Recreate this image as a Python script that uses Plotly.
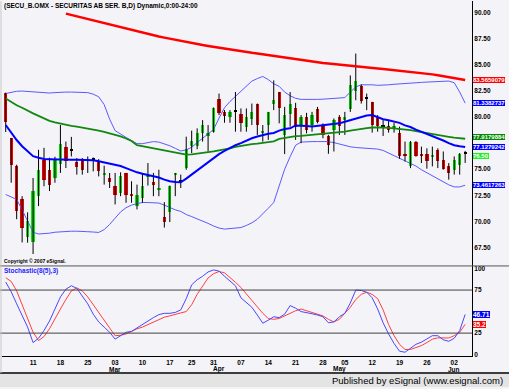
import plotly.graph_objects as go

# ---------------- data (trading-day index 0 = 2008-02-04) ----------------
opens = [82.3, 78.0, 75.27, 72.16, 68.5, 67.97, 72.41, 75.9, 74.95, 74.16,
         75.52, 77.11, 76.76, 75.65, 75.97, 75.74, 75.9, 75.74, 74.48, 74.16,
         73.43, 72.73, 74.64, 72.64, 71.46, 72.25, 74.3, 73.74, 72.98, 70.44,
         70.88, 74.5, 73.78, 75.11, 77.24, 77.24, 78.51, 78.19, 78.6, 81.71,
         80.5, 80.03, 80.5, 80.26, 79.08, 79.78, 81.24, 78.51, 79.24, 81.3,
         82.41, 78.29, 80.29, 80.92, 79.24, 79.97, 79.24, 80.73, 79.14, 78.19,
         78.76, 79.97, 79.78, 80.73, 82.5, 82.95, 81.78, 81.46, 79.97, 79.14,
         79.14, 78.92, 78.45, 76.45, 75.27, 77.65, 76.45, 76.45, 76.22, 76.86,
         75.9, 75.27, 74.95, 75.36, 76.5]
highs = [82.35, 78.0, 75.43, 72.41, 70.86, 74.16, 76.86, 77.05, 76.1, 76.2,
         79.24, 77.65, 78.1, 76.07, 76.07, 76.22, 76.12, 75.97, 75.33, 74.64,
         74.64, 74.7, 74.64, 73.84, 73.52, 74.64, 75.59, 74.64, 74.95, 71.84,
         73.43, 74.64, 74.48, 78.12, 78.7, 78.92, 79.71, 79.24, 80.92, 82.26,
         80.67, 80.67, 82.41, 80.83, 80.83, 81.3, 81.3, 79.24, 80.5, 83.52,
         82.41, 80.98, 82.41, 81.37, 80.19, 80.41, 80.5, 80.98, 79.4, 78.29,
         79.87, 80.19, 80.5, 84.0, 86.1, 83.14, 82.26, 81.46, 80.19, 79.71,
         79.71, 79.46, 79.08, 77.65, 77.7, 77.7, 77.17, 77.0, 77.17, 77.0,
         76.7, 75.59, 76.22, 76.55, 76.75]
lows = [78.57, 73.7, 70.2, 67.97, 67.95, 66.86, 71.46, 73.36, 72.9, 73.7,
        74.64, 75.11, 76.23, 74.48, 74.48, 74.64, 74.79, 74.31, 73.52, 73.2,
        71.62, 72.41, 71.78, 71.78, 71.14, 71.78, 73.43, 72.41, 72.41, 69.4,
        69.93, 72.41, 73.2, 74.95, 76.54, 76.92, 77.65, 76.7, 78.51, 80.19,
        79.46, 79.46, 78.6, 78.6, 78.6, 79.24, 78.29, 77.65, 77.81, 80.67,
        79.4, 76.45, 79.08, 77.81, 77.5, 78.44, 78.6, 79.4, 77.97, 76.48,
        76.7, 78.29, 78.29, 80.5, 81.62, 81.3, 80.67, 78.51, 78.6, 78.19,
        78.51, 78.51, 76.0, 75.74, 75.1, 76.2, 75.59, 75.05, 75.27, 75.11,
        74.95, 74.0, 74.48, 74.48, 75.6]
closes = [79.55, 75.43, 70.98, 69.4, 70.0, 72.9, 74.95, 74.0, 73.52, 75.9,
          77.43, 75.74, 76.76, 75.17, 74.95, 75.97, 75.9, 74.79, 74.64, 73.74,
          72.48, 74.38, 72.57, 72.48, 72.48, 73.43, 74.45, 73.52, 73.2, 69.93,
          73.36, 74.6, 73.78, 76.92, 77.74, 78.44, 79.21, 78.51, 80.92, 80.35,
          80.1, 80.5, 80.5, 79.4, 79.97, 80.5, 79.24, 78.67, 80.45, 81.68,
          80.83, 80.19, 81.24, 79.08, 79.97, 78.76, 80.19, 79.55, 78.29, 77.33,
          79.71, 79.14, 79.97, 83.05, 83.46, 81.55, 81.78, 79.24, 79.14, 79.14,
          78.76, 79.14, 76.22, 76.22, 77.65, 76.22, 76.22, 75.74, 76.38, 75.74,
          75.05, 74.64, 75.9, 76.45, 76.5]

ma_fast = [79.24, 78.5, 77.8, 77.2, 76.75, 76.25, 76.1, 75.97, 75.95, 75.92,
           75.9, 75.9, 75.9, 75.9, 75.9, 75.9, 75.85, 75.76, 75.66, 75.55,
           75.45, 75.3, 75.1, 74.87, 74.7, 74.56, 74.45, 74.35, 74.2, 74.0,
           73.84, 73.76, 73.74, 74.1, 74.5, 74.9, 75.3, 75.7, 76.1, 76.45,
           76.75, 77.05, 77.3, 77.5, 77.75, 77.97, 78.14, 78.28, 78.4, 78.47,
           78.7, 78.85, 78.92, 79.2, 79.2, 79.15, 79.1, 79.15, 79.2, 79.25,
           79.3, 79.4, 79.55, 79.7, 79.85, 80.0, 80.15, 80.2, 80.0, 79.8,
           79.7, 79.6, 79.45, 79.2, 79.05, 78.8, 78.6, 78.4, 78.15, 77.95,
           77.75, 77.5, 77.3, 77.2, 77.13]
ma_mid = [81.78, 81.45, 81.14, 80.9, 80.6, 80.36, 80.12, 79.9, 79.64, 79.5,
          79.37, 79.25, 79.16, 79.08, 79.0, 78.9, 78.8, 78.7, 78.58, 78.45,
          78.32, 78.15, 77.95, 77.7, 77.3, 77.2, 77.1, 77.0, 76.93, 76.8,
          76.7, 76.6, 76.48, 76.4, 76.42, 76.48, 76.55, 76.6, 76.7, 76.8,
          76.88, 77.0, 77.15, 77.25, 77.33, 77.4, 77.45, 77.52, 77.6, 77.68,
          77.9, 78.0, 78.07, 78.17, 78.2, 78.25, 78.3, 78.32, 78.35, 78.38,
          78.45, 78.52, 78.6, 78.7, 78.8, 78.88, 78.95, 79.0, 79.02, 79.0,
          78.97, 78.92, 78.9, 78.85, 78.75, 78.65, 78.55, 78.45, 78.38, 78.3,
          78.2, 78.1, 78.02, 77.96, 77.92]
ma_slow = [None] * 11 + [
          89.93, 89.8, 89.67, 89.53, 89.4, 89.27, 89.13, 89.0, 88.87,
          88.72, 88.59, 88.45, 88.32, 88.2, 88.09, 87.97, 87.86, 87.74, 87.63,
          87.52, 87.42, 87.31, 87.21, 87.1, 87.0, 86.91, 86.83, 86.74, 86.66,
          86.57, 86.49, 86.4, 86.32, 86.25, 86.17, 86.1, 86.02, 85.94, 85.87,
          85.79, 85.71, 85.64, 85.56, 85.45, 85.38, 85.32, 85.26, 85.2, 85.14,
          85.08, 85.02, 84.97, 84.92, 84.86, 84.81, 84.76, 84.71, 84.66, 84.61,
          84.56, 84.51, 84.46, 84.41, 84.36, 84.3, 84.24, 84.17, 84.1, 84.02,
          83.93, 83.84, 83.75, 83.66, 83.57]
bb_upper = [82.26, 82.4, 82.48, 82.5, 82.45, 82.4, 82.35, 82.32, 82.31, 82.35,
            82.4, 82.4, 82.4, 82.4, 82.4, 82.35, 82.2, 81.95, 81.2, 79.8,
            78.7, 78.35, 78.05, 77.75, 77.45, 77.45, 77.55, 77.65, 77.6, 77.45,
            77.25, 77.0, 76.75, 76.85, 77.1, 77.55, 77.95, 78.35, 78.8, 79.9,
            80.9, 81.5, 82.0, 82.45, 83.0, 83.45, 83.7, 83.9, 83.6, 83.2,
            82.95, 82.4, 82.05, 81.8, 81.7, 81.68, 81.68, 81.7, 81.72, 81.76,
            81.8, 81.83, 81.87, 82.4, 82.9, 83.1, 83.12, 83.1, 83.05, 83.05,
            83.1, 83.15, 83.2, 83.25, 83.27, 83.3, 83.33, 83.36, 83.38, 83.42,
            83.45, 83.46, 83.3, 82.4, 81.34]
bb_lower = [72.57, 72.35, 72.1, 71.1, 70.1, 68.95, 68.78, 68.8, 68.86, 68.95,
            69.0, 69.05, 69.05, 69.05, 69.05, 69.0, 68.97, 68.93, 69.2, 69.7,
            70.3, 70.9, 71.3, 71.55, 71.7, 71.8, 71.8, 71.8, 71.75, 71.55,
            71.3, 71.1, 70.95, 70.65, 70.45, 70.25, 70.05, 69.8, 69.55, 69.35,
            69.25, 69.28, 69.35, 69.4, 69.6, 69.85, 70.2, 70.7, 71.25, 71.8,
            73.5, 75.0, 76.2, 77.3, 77.6, 77.65, 77.65, 77.65, 77.65, 77.65,
            77.55, 77.4, 77.27, 77.15, 77.08, 77.03, 77.0, 76.96, 76.93, 76.8,
            76.55, 76.3, 76.1, 75.85, 75.6, 75.3, 74.95, 74.65, 74.35, 74.05,
            73.75, 73.5, 73.3, 73.3, 73.46]
stoch_k = [84.3, 73, 59, 45, 32, 14, 19, 28, 39, 53,
           67, 76, 80, 77, 68, 59, 47, 38, 32, 26,
           18, 21.5, 26, 27, 31, 36, 39, 43, 46.5, 48,
           48, 49, 52, 65, 81, 87, 91, 96, 98.4, 97,
           91, 85, 80, 66, 60, 55, 46, 36.5, 40, 44,
           43, 47, 57, 54, 50, 49, 47.5, 46, 44, 37,
           38, 44, 48, 60, 75, 74.5, 72.5, 66, 53, 37,
           24, 13, 4, 2.8, 7, 12, 14.5, 18, 22, 22,
           17.3, 15.5, 19, 28, 46.71]
stoch_d = [89.3, 85, 74, 58, 42, 26, 16.4, 21, 30, 42,
           53, 64, 74, 77.5, 74, 67, 58, 48, 39, 30,
           22, 22.5, 24, 27, 30, 32, 35, 38, 41, 43.5,
           45, 47, 48.5, 50, 58, 70, 80, 89, 94, 96.5,
           95, 90, 84, 78, 70, 63, 55.5, 48, 42, 41,
           42, 45, 48, 51, 53, 51, 48.5, 47, 45, 41,
           38, 41, 48, 55, 64, 70, 72.5, 70, 65, 52,
           35, 22, 12, 6, 6, 8, 10.5, 14, 18, 19.5,
           19.5, 19.4, 22, 26, 35.2]

day_tick_idx = [5, 10, 15, 20, 25, 30, 34, 38, 43, 48, 53, 58, 62, 67, 72, 77, 82]
day_tick_text = ['11', '18', '25', '03', '10', '17', '25', '31', '07', '14', '21',
                 '28', '05', '12', '19', '26', '02']
month_idx = [20, 39, 61, 82]
month_text = ['Mar', 'Apr', 'May', 'Jun']

# 77.50 is hidden behind the value tags in the original
price_ticks = [67.5, 70.0, 72.5, 75.0, 80.0, 82.5, 85.0, 87.5, 90.0]
stoch_ticks = [0, 25, 75, 100]

# right-edge value tags: (text, value, colour)
price_tags = [('83.5659079', 83.5659079, '#FF0000'), ('81.3382737', 81.3382737, '#0000FF'),
              ('77.9179884', 77.9179884, '#008800'), ('77.1279242', 77.1279242, '#0000FF'),
              ('76.50', 76.50, '#22EE22'), ('73.4617263', 73.4617263, '#0000FF')]
stoch_tags = [('46.71', 46.71, '#0000FF'), ('35.2', 35.2, '#FF0000')]

# ---------------- figure ----------------
W, H = 509, 389
def px_y(p):
    return (H - p) / H
def px_x(p):
    return p / W

FONT = 'Liberation Sans, Arial, sans-serif'
BG = '#F4F3F7'
idx = list(range(len(opens)))

fig = go.Figure()

# Bollinger bands
fig.add_trace(go.Scatter(x=idx, y=bb_upper, mode='lines', line=dict(color='#5A5AFF', width=1),
                         xaxis='x', yaxis='y'))
fig.add_trace(go.Scatter(x=idx, y=bb_lower, mode='lines', line=dict(color='#5A5AFF', width=1),
                         xaxis='x', yaxis='y'))

# wicks
wx, wy = [], []
for i in idx:
    wx += [i, i, None]
    wy += [lows[i], highs[i], None]
fig.add_trace(go.Scatter(x=wx, y=wy, mode='lines', line=dict(color='#000000', width=1),
                         xaxis='x', yaxis='y'))

# bodies
base = [min(o, c) for o, c in zip(opens, closes)]
hgt = [max(abs(c - o), 0.1) for o, c in zip(opens, closes)]
cols = ['#11E011' if c > o else ('#EE0000' if c < o else '#000000') for o, c in zip(opens, closes)]
fig.add_trace(go.Bar(x=idx, y=hgt, base=base, width=0.6, marker=dict(color=cols, line=dict(width=0)),
                     xaxis='x', yaxis='y'))

# moving averages
fig.add_trace(go.Scatter(x=idx, y=ma_slow, mode='lines', line=dict(color='#FF0000', width=2.5),
                         xaxis='x', yaxis='y'))
fig.add_trace(go.Scatter(x=idx, y=ma_mid, mode='lines', line=dict(color='#118811', width=1.8),
                         xaxis='x', yaxis='y'))
fig.add_trace(go.Scatter(x=idx, y=ma_fast, mode='lines', line=dict(color='#0000FF', width=2),
                         xaxis='x', yaxis='y'))

# stochastic
fig.add_trace(go.Scatter(x=idx, y=stoch_d, mode='lines', line=dict(color='#FF4040', width=1),
                         xaxis='x', yaxis='y2'))
fig.add_trace(go.Scatter(x=idx, y=stoch_k, mode='lines', line=dict(color='#4848FF', width=1),
                         xaxis='x', yaxis='y2'))

tickfont = dict(family=FONT, size=6.5, color='#000000', weight='bold')

annotations = [
    dict(text='(SECU_B.OMX - SECURITAS AB SER. B,D) Dynamic,0:00-24:00', xref='paper', yref='paper',
         x=px_x(2), y=px_y(5), xanchor='left', yanchor='middle', showarrow=False,
         font=dict(family=FONT, size=6.5, color='#000000', weight='bold')),
    dict(text='Copyright © 2007 eSignal.', xref='paper', yref='paper',
         x=px_x(2), y=px_y(262), xanchor='left', yanchor='middle', showarrow=False,
         font=dict(family=FONT, size=5, color='#000000', weight='bold')),
    dict(text='Stochastic(8(5),3)', xref='paper', yref='paper',
         x=px_x(2), y=px_y(272.5), xanchor='left', yanchor='middle', showarrow=False,
         font=dict(family=FONT, size=6.5, color='#2525FF', weight='bold')),
    dict(text='Published by eSignal (www.esignal.com)', xref='paper', yref='paper',
         x=px_x(505), y=px_y(382.5), xanchor='right', yanchor='middle', showarrow=False,
         font=dict(family=FONT, size=9.5, color='#000000')),
]
for t, i in zip(month_text, month_idx):
    annotations.append(dict(text=t, xref='x', yref='paper', x=i, y=px_y(371), xanchor='center',
                            yanchor='middle', showarrow=False, font=tickfont))
tag_shift = [0, 0, 1.5, 0, -2, 0]
for (t, v, c), s in zip(price_tags, tag_shift):
    annotations.append(dict(text=t, xref='paper', yref='y', x=px_x(473), y=v, xanchor='left',
                            yanchor='middle', showarrow=False, bgcolor=c, borderpad=0,
                            borderwidth=0, yshift=s,
                            font=dict(family=FONT, size=6, color='#FFFFFF', weight='bold')))
for t, v, c in stoch_tags:
    annotations.append(dict(text=t, xref='paper', yref='y2', x=px_x(473), y=v, xanchor='left',
                            yanchor='middle', showarrow=False, bgcolor=c, borderpad=0,
                            borderwidth=0,
                            font=dict(family=FONT, size=6.5, color='#FFFFFF', weight='bold')))

shapes = [
    dict(type='line', xref='paper', yref='y2', x0=0, x1=px_x(472), y0=75, y1=75,
         line=dict(color='#404040', width=1)),
    dict(type='line', xref='paper', yref='y2', x0=0, x1=px_x(472), y0=25, y1=25,
         line=dict(color='#404040', width=1)),
    dict(type='line', xref='paper', yref='paper', x0=0, x1=1, y0=px_y(267), y1=px_y(267),
         line=dict(color='#555555', width=1)),
    dict(type='line', xref='paper', yref='paper', x0=0, x1=1, y0=px_y(375), y1=px_y(375),
         line=dict(color='#000000', width=1.5)),
    dict(type='rect', xref='paper', yref='paper', x0=0, x1=1, y0=0, y1=px_y(376),
         fillcolor='#E4E4E4', line=dict(width=0), layer='below'),
    dict(type='line', xref='paper', yref='paper', x0=px_x(1), x1=px_x(1), y0=px_y(375), y1=1,
         line=dict(color='#C8C8C8', width=1)),
]

fig.update_layout(
    width=W, height=H, autosize=False,
    margin=dict(l=0, r=0, t=0, b=0, pad=0),
    paper_bgcolor=BG, plot_bgcolor=BG,
    showlegend=False, hovermode=False, bargap=0,
    font=dict(family=FONT),
    xaxis=dict(domain=[px_x(2), px_x(472)], range=[-0.68, 85.25], anchor='y2',
               tickvals=day_tick_idx, ticktext=day_tick_text, tickfont=tickfont,
               ticks='', showgrid=False, zeroline=False, showline=True,
               linecolor='#000000', linewidth=1),
    yaxis=dict(domain=[px_y(267), 1], range=[90 - (267 - 12) / 10.5, 90 + 12 / 10.5],
               side='right', anchor='x', tickvals=price_ticks, tickformat='.2f',
               tickfont=tickfont, ticks='', showgrid=False, zeroline=False,
               showline=True, linecolor='#000000', linewidth=1),
    yaxis2=dict(domain=[px_y(358), px_y(267)], range=[(356.4 - 358) / 0.868, (356.4 - 267) / 0.868],
                side='right', anchor='x', tickvals=stoch_ticks, tickfont=tickfont,
                ticks='', showgrid=False, zeroline=False,
                showline=True, linecolor='#000000', linewidth=1),
    annotations=annotations,
    shapes=shapes,
)

fig.write_html('out.html', config={'displayModeBar': False},
               post_script="document.body.style.margin='0';document.body.style.padding='0';")
